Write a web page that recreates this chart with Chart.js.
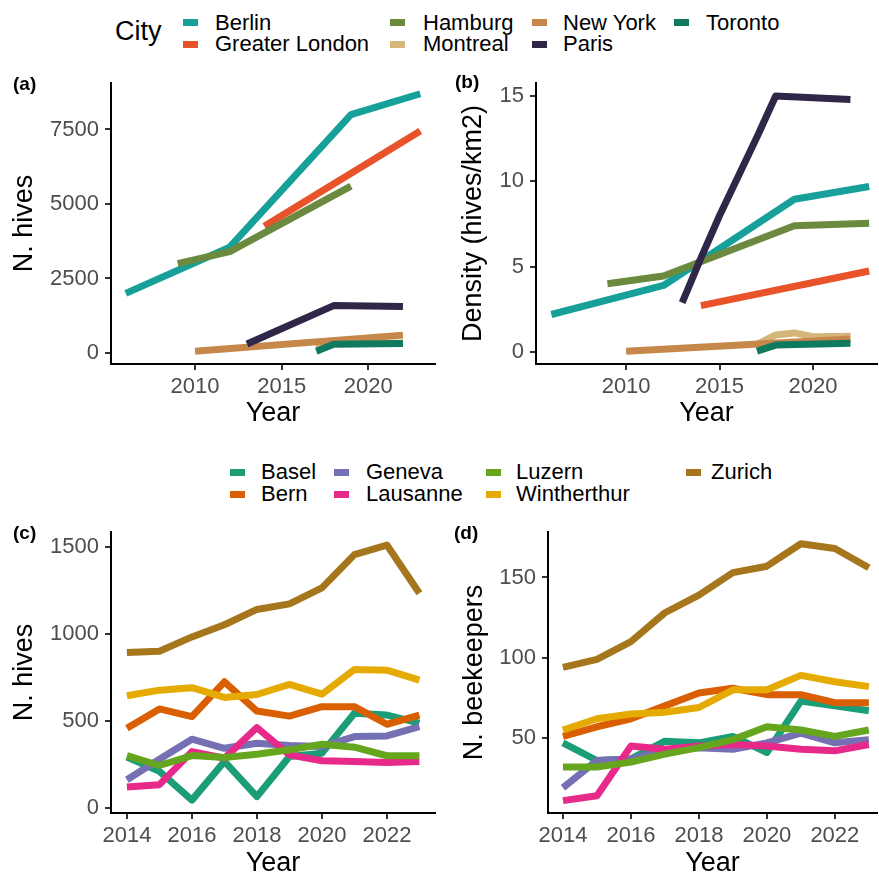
<!DOCTYPE html>
<html>
<head>
<meta charset="utf-8">
<script src="https://cdn.jsdelivr.net/npm/chart.js@4.4.1/dist/chart.umd.min.js"></script>
<style>
  body { margin: 0; width: 879px; height: 877px; background: #fff; position: relative; overflow: hidden;
         font-family: "Liberation Sans", Arial, sans-serif; }
  canvas { position: absolute; }
  .tag { position: absolute; font-weight: bold; font-size: 19px; line-height: 20px; color: #000; }
  .key { position: absolute; width: 15px; height: 7px; }
  .lab { position: absolute; font-size: 22px; line-height: 22px; color: #000; white-space: nowrap; }
</style>
</head>
<body>
<canvas id="chartA" width="440" height="370" style="left:0;top:60px"></canvas>
<canvas id="chartB" width="439" height="370" style="left:440px;top:60px"></canvas>
<canvas id="chartC" width="440" height="367" style="left:0;top:510px"></canvas>
<canvas id="chartD" width="439" height="367" style="left:440px;top:510px"></canvas>
<div class="tag" style="left:13px;top:74px">(a)</div>
<div class="tag" style="left:455px;top:72px">(b)</div>
<div class="tag" style="left:13px;top:523px">(c)</div>
<div class="tag" style="left:454px;top:523px">(d)</div>
<div id="legendTop"></div>
<div id="legendBottom"></div>
<script>
// ---- big cities (panels a, b) ----
const cityNames = ["Berlin", "Greater London", "Hamburg", "Montreal", "New York", "Paris", "Toronto"];
const cityColors = ["#17a09a", "#e8532a", "#6b8a3f", "#d4b67a", "#c6884a", "#2f2648", "#0f7a5e"];
const cityYears = [2006, 2009, 2010, 2012, 2013, 2014, 2015, 2016, 2017, 2018, 2019, 2020, 2022, 2023];

const berlinHives   = [2000, null, null, 3550, null, null, null, null, null, null, 8000, null, null, 8700];
const londonHives   = [null, null, null, null, null, 4250, null, null, null, null, null, null, null, 7450];
const hamburgHives  = [null, 3000, null, 3400, null, null, null, null, null, null, 5600, null, null, null];
const montrealHives = [null, null, null, null, null, null, null, null, 165, 365, 410, 330, 335, null];
const newyorkHives  = [null, null, 60, null, null, null, null, null, null, null, null, null, 600, null];
const parisHives    = [null, null, null, null, 300, null, null, null, null, 1590, null, null, 1560, null];
const torontoHives  = [null, null, null, null, null, null, null, null, 60, 290, null, null, 320, null];

const berlinDensity   = [2.2, null, null, 3.9, null, null, null, null, null, null, 8.95, null, null, 9.7];
const londonDensity   = [null, null, null, null, null, 2.72, null, null, null, null, null, null, null, 4.75];
const hamburgDensity  = [null, 4.0, null, 4.45, null, null, null, null, null, null, 7.4, null, null, 7.55];
const montrealDensity = [null, null, null, null, null, null, null, null, 0.45, 1.0, 1.12, 0.9, 0.92, null];
const newyorkDensity  = [null, null, 0.05, null, null, null, null, null, null, null, null, null, 0.77, null];
const parisDensity    = [null, null, null, null, 2.9, 5.5, 8.0, 10.3, 12.6, 15.0, null, null, 14.8, null];
const torontoDensity  = [null, null, null, null, null, null, null, null, 0.05, 0.41, null, null, 0.52, null];

const hivesTicks = [0, 2500, 5000, 7500];
const densityTicks = [0, 5, 10, 15];
const cityYearTicks = [2010, 2015, 2020];

// ---- Swiss cities (panels c, d) ----
const swissNames = ["Basel", "Bern", "Geneva", "Lausanne", "Luzern", "Wintherthur", "Zurich"];
const swissColors = ["#1b9e77", "#d95f02", "#7570b3", "#e7298a", "#66a61e", "#e6ab02", "#a6761d"];
const swissYears = [2014, 2015, 2016, 2017, 2018, 2019, 2020, 2021, 2022, 2023];

const baselHives    = [292, 210, 45, 267, 65, 296, 315, 544, 534, 487];
const bernHives     = [458, 569, 525, 725, 557, 528, 582, 582, 481, 534];
const genevaHives   = [162, 280, 395, 343, 372, 359, 353, 410, 414, 467];
const lausanneHives = [120, 134, 324, 286, 462, 305, 271, 267, 261, 267];
const luzernHives   = [301, 244, 301, 290, 309, 334, 366, 349, 300, 300];
const winterHives   = [645, 677, 691, 635, 652, 710, 654, 796, 792, 735];
const zurichHives   = [893, 901, 983, 1053, 1141, 1173, 1265, 1456, 1511, 1234];

const baselKeepers    = [47, 36, 37, 48, 47, 51, 41, 73, 70, 67];
const bernKeepers     = [51, 57, 62, 70, 78, 81, 77, 77, 72, 72];
const genevaKeepers   = [19, 36, 37, 42, 44, 43, 47, 53, 47, 49];
const lausanneKeepers = [11, 14, 45, 43, 45, 46, 45, 43, 42, 46];
const luzernKeepers   = [32, 32, 35, 40, 44, 49, 57, 55, 51, 55];
const winterKeepers   = [55, 62, 65, 66, 69, 80, 80, 89, 85, 82];
const zurichKeepers   = [94, 99, 110, 128, 139, 153, 157, 171, 168, 156];

const swissHivesTicks = [0, 500, 1000, 1500];
const keepersTicks = [50, 100, 150];
const swissYearTicks = [2014, 2016, 2018, 2020, 2022];

const FONT = "'Liberation Sans', Arial, sans-serif";

function makeDatasets(names, colors, years, series) {
  return series.map((vals, i) => ({
    label: names[i],
    data: years.map((yr, j) => ({ x: yr, y: vals[j] })),
    borderColor: colors[i],
    borderWidth: 7,
    borderCapStyle: "butt",
    borderJoinStyle: "round",
    pointRadius: 0,
    tension: 0,
    spanGaps: true,
    order: names.length - i   // later groups drawn on top, like ggplot
  }));
}

function axis(min, max, ticks, size, title, titlePad, isX) {
  return {
    type: "linear",
    min: min,
    max: max,
    afterBuildTicks: s => { s.ticks = ticks.map(v => ({ value: v })); },
    afterFit: s => { if (isX) s.height = size; else s.width = size; },
    ticks: {
      color: "#4d4d4d",
      font: { size: 22, family: FONT },
      padding: isX ? 4 : 6,
      maxRotation: 0,
      autoSkip: false,
      callback: v => String(v)
    },
    grid: { display: true, drawOnChartArea: false, drawTicks: true, tickLength: 6, color: "#333", lineWidth: 2 },
    border: { display: true, color: "#000", width: 2 },
    title: {
      display: true,
      text: title,
      color: "#000",
      font: { size: 27, family: FONT, lineHeight: 1 },
      padding: isX ? { top: 0, bottom: titlePad } : { top: titlePad, bottom: 0 }
    }
  };
}

function makePanel(id, names, colors, years, series, xs, ys, pad) {
  new Chart(document.getElementById(id), {
    type: "line",
    data: { datasets: makeDatasets(names, colors, years, series) },
    options: {
      responsive: false,
      animation: false,
      events: [],
      layout: { padding: pad },
      plugins: { legend: { display: false }, tooltip: { enabled: false } },
      scales: { x: xs, y: ys }
    }
  });
}

makePanel("chartA", cityNames, cityColors, cityYears,
  [berlinHives, londonHives, hamburgHives, montrealHives, newyorkHives, parisHives, torontoHives],
  axis(2005.15, 2023.85, cityYearTicks, 66, "Year", 3, true),
  axis(-369, 9060, hivesTicks, 111, "N. hives", 11.5, false),
  { top: 23, right: 5, left: 0, bottom: 0 });

makePanel("chartB", cityNames, cityColors, cityYears,
  [berlinDensity, londonDensity, hamburgDensity, montrealDensity, newyorkDensity, parisDensity, torontoDensity],
  axis(2005.18, 2023.42, cityYearTicks, 66, "Year", 3, true),
  axis(-0.7, 15.76, densityTicks, 96, "Density (hives/km2)", 20.5, false),
  { top: 23, right: 2, left: 0, bottom: 0 });

makePanel("chartC", swissNames, swissColors, swissYears,
  [baselHives, bernHives, genevaHives, lausanneHives, luzernHives, winterHives, zurichHives],
  axis(2013.51, 2023.48, swissYearTicks, 64, "Year", 0, true),
  axis(-29, 1586, swissHivesTicks, 111, "N. hives", 11.5, false),
  { top: 22, right: 5, left: 0, bottom: 0 });

makePanel("chartD", swissNames, swissColors, swissYears,
  [baselKeepers, bernKeepers, genevaKeepers, lausanneKeepers, luzernKeepers, winterKeepers, zurichKeepers],
  axis(2013.56, 2023.24, swissYearTicks, 64, "Year", 0, true),
  axis(3.3, 178.3, keepersTicks, 108, "N. beekeepers", 21.5, false),
  { top: 22, right: 2, left: 0, bottom: 0 });

// ---- legends (two rows, filled column by column) ----
function buildLegend(el, names, colors, keyX, textX, rowY) {
  let html = "";
  names.forEach((n, i) => {
    const col = Math.floor(i / 2), row = i % 2;
    const cy = rowY[row];
    html += `<div class="key" style="left:${keyX[col]}px;top:${cy - 3.5}px;background:${colors[i]}"></div>`;
    html += `<div class="lab" style="left:${textX[col]}px;top:${cy - 11}px">${n}</div>`;
  });
  el.innerHTML = html;
}

buildLegend(document.getElementById("legendTop"), cityNames, cityColors,
  [183, 390, 532, 674], [215, 423, 563, 706], [22.5, 44]);
document.getElementById("legendTop").insertAdjacentHTML("beforeend",
  `<div class="lab" style="left:115px;top:18px;font-size:27px;line-height:27px">City</div>`);

buildLegend(document.getElementById("legendBottom"), swissNames, swissColors,
  [230, 334, 486, 686], [261, 366, 516, 711], [472, 494]);
</script>
</body>
</html>
